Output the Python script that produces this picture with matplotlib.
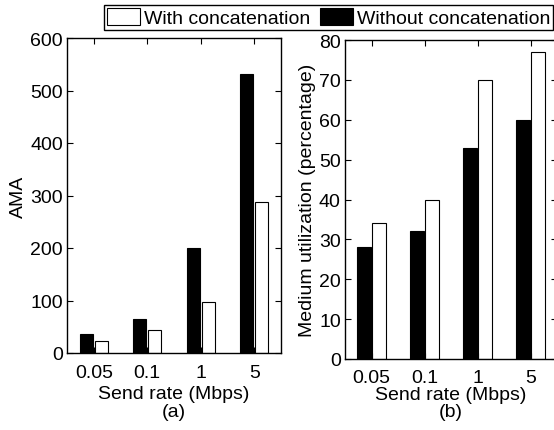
import numpy as np
import matplotlib.pyplot as plt
from matplotlib.patches import Patch

plt.rcParams['font.family'] = ['Liberation Sans', 'DejaVu Sans']

rates = ["0.05", "0.1", "1", "5"]
ama_without = [36, 64, 200, 531]
ama_with = [23, 43, 97, 288]
util_without = [28, 32, 53, 60]
util_with = [34, 40, 70, 77]

FS = 14


def draw_bars(ax, without, with_, ylim, yticks, ylabel, sub, xpad, lpad):
    x = np.arange(1, len(rates) + 1)
    w = 0.25
    ax.bar(x - 0.14, without, w, color='black', edgecolor='black', linewidth=0.8)
    ax.bar(x + 0.14, with_, w, color='white', edgecolor='black', linewidth=0.8)
    ax.set_xlim(0.5, 4.5)
    ax.set_ylim(*ylim)
    ax.set_xticks(x)
    ax.set_xticklabels(rates, fontsize=FS)
    ax.set_yticks(yticks)
    ax.set_yticklabels([str(v) for v in yticks], fontsize=FS)
    ax.tick_params(axis='x', direction='in', top=True, length=4, pad=xpad)
    ax.tick_params(axis='y', direction='in', right=True, length=4, pad=3)
    ax.set_ylabel(ylabel, fontsize=FS, labelpad=2)
    ax.set_xlabel("Send rate (Mbps)\n(" + sub + ")", fontsize=FS, linespacing=1.05, labelpad=lpad)
    for s in ax.spines.values():
        s.set_linewidth(1.0)


fig = plt.figure(figsize=(5.54, 4.31), dpi=100)
ax1 = fig.add_axes([67 / 554, 1 - 354 / 431, (281 - 67) / 554, (354 - 39) / 431])
ax2 = fig.add_axes([345 / 554, 1 - 360 / 431, (557 - 345) / 554, (360 - 41) / 431])

draw_bars(ax1, ama_without, ama_with, (0, 600), list(range(0, 601, 100)), "AMA", "a", 8, 3)
draw_bars(ax2, util_without, util_with, (0, 80), list(range(0, 81, 10)),
          "Medium utilization (percentage)", "b", 7, 0)

handles = [Patch(facecolor='white', edgecolor='black', linewidth=0.8),
           Patch(facecolor='black', edgecolor='black', linewidth=0.8)]
leg = fig.legend(handles, ["With concatenation", "Without concatenation"],
                 loc='lower left', bbox_to_anchor=(104 / 554, 1 - 31 / 431, (553 - 104) / 554, 32 / 431),
                 mode='expand', ncol=2, fontsize=FS, handlelength=1.7, handleheight=1.0,
                 handletextpad=0.2, columnspacing=0.4, borderpad=0.15, borderaxespad=0,
                 fancybox=False, framealpha=1, edgecolor='black')
leg.get_frame().set_linewidth(1.0)

fig.savefig("out.png", dpi=100)
